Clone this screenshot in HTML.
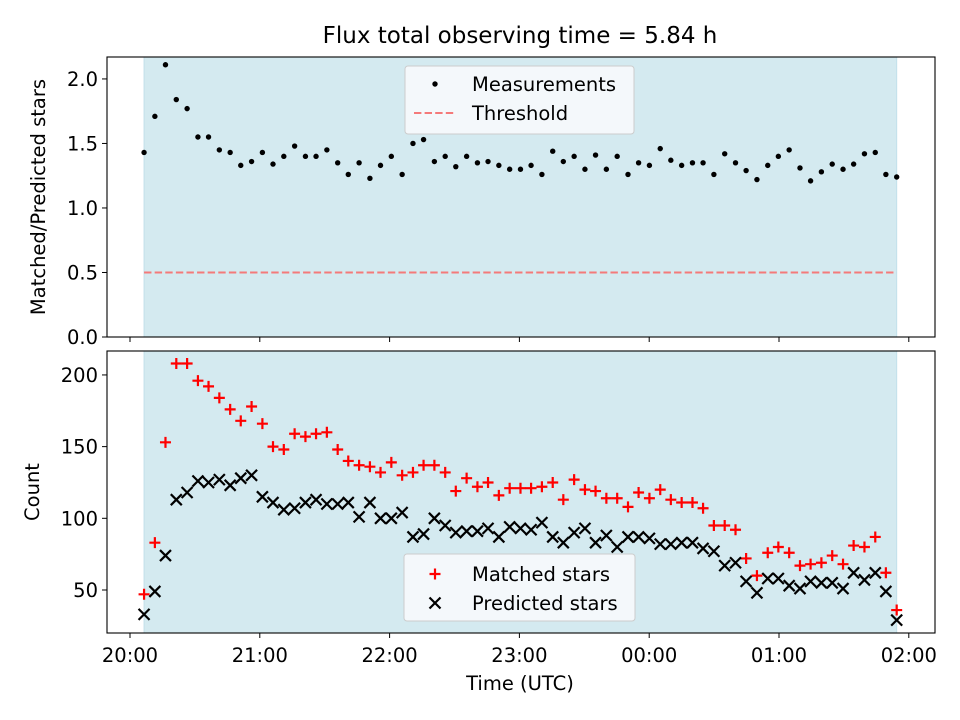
<!DOCTYPE html>
<html><head><meta charset="utf-8"><style>
html,body{margin:0;padding:0;background:#fff;}
svg{display:block;font-family:"DejaVu Sans","Liberation Sans",sans-serif;}
</style></head><body>
<svg id="chart" width="960" height="720" viewBox="0 0 960 720"></svg>
<script>
const minutes=[6.5,11.5,16.4,21.4,26.4,31.4,36.3,41.3,46.3,51.2,56.2,61.2,66.1,71.1,76.1,81.1,86.0,91.0,96.0,100.9,105.9,110.9,115.8,120.8,125.8,130.8,135.7,140.7,145.7,150.6,155.6,160.6,165.5,170.5,175.5,180.5,185.4,190.4,195.4,200.3,205.3,210.3,215.2,220.2,225.2,230.2,235.1,240.1,245.1,250.0,255.0,260.0,264.9,269.9,274.9,279.9,284.8,289.8,294.8,299.7,304.7,309.7,314.6,319.6,324.6,329.6,334.5,339.5,344.5,349.4,354.4];
const ratio=[1.43,1.71,2.11,1.84,1.77,1.55,1.55,1.45,1.43,1.33,1.36,1.43,1.34,1.40,1.48,1.40,1.40,1.45,1.35,1.26,1.35,1.23,1.33,1.40,1.26,1.50,1.53,1.36,1.40,1.32,1.40,1.35,1.36,1.33,1.30,1.30,1.33,1.26,1.44,1.36,1.40,1.30,1.41,1.30,1.40,1.26,1.35,1.33,1.46,1.37,1.33,1.35,1.35,1.26,1.42,1.35,1.29,1.22,1.33,1.40,1.45,1.31,1.21,1.28,1.34,1.30,1.34,1.42,1.43,1.26,1.24];
const matched=[47,83,153,208,208,196,192,184,176,168,178,166,150,148,159,157,159,160,148,140,137,136,132,139,130,132,137,137,132,119,128,122,125,116,121,121,121,122,125,113,127,120,119,114,114,108,118,114,120,113,111,111,107,95,95,92,72,60,76,80,76,67,68,69,74,68,81,80,87,62,36];
const predicted=[33,49,74,113,118,126,125,127,123,128,130,115,111,106,107,111,113,110,110,111,101,111,100,100,104,87,89,100,95,90,91,91,93,87,94,93,92,97,87,83,90,93,83,88,80,87,87,86,82,82,83,83,79,77,67,69,56,48,58,58,53,51,56,55,55,51,62,57,62,49,29];
const threshold=0.5;
const xTickLabels=["20:00","21:00","22:00","23:00","00:00","01:00","02:00"];
const topTicks=[0.0,0.5,1.0,1.5,2.0];
const botTicks=[50,100,150,200];

const NS="http://www.w3.org/2000/svg";
const svg=document.getElementById('chart');
function mk(tag,attrs,parent){const e=document.createElementNS(NS,tag);for(const k in attrs)e.setAttribute(k,attrs[k]);(parent||svg).appendChild(e);return e;}
const L=107,R=935,T1=57,B1=337,T2=351,B2=633;
const FS=19.5;
const xS=m=>130+m/60*129.8;
const y1=v=>B1-(v-0)/(2.17)*(B1-T1);
const y2=v=>B2-(v-20)/(216.7-20)*(B2-T2);
const shadeX0=xS(minutes[0]),shadeX1=xS(minutes[minutes.length-1]);

let s=mk('rect',{x:shadeX0,y:T1,width:shadeX1-shadeX0,height:B1-T1,fill:'#d4eaf0',stroke:'#c2e0ea'});


s=mk('rect',{x:shadeX0,y:T2,width:shadeX1-shadeX0,height:B2-T2,fill:'#d4eaf0',stroke:'#c2e0ea'});



let th=mk('line',{x1:shadeX0,x2:shadeX1,y1:y1(threshold),y2:y1(threshold),stroke:'#f47a7a','stroke-width':2,'stroke-dasharray':'7.4,3.2'});



ratio.forEach((v,i)=>{const c=mk('circle',{cx:xS(minutes[i]),cy:y1(v),r:2.7,fill:'#000'});

});

matched.forEach((v,i)=>{const x=xS(minutes[i]),y=y2(v);const p=mk('path',{d:`M${x-5.5},${y}H${x+5.5}M${x},${y-5.5}V${y+5.5}`,stroke:'#ff0000','stroke-width':2.2,fill:'none'});

});
predicted.forEach((v,i)=>{const x=xS(minutes[i]),y=y2(v);const p=mk('path',{d:`M${x-5.5},${y-5.5}L${x+5.5},${y+5.5}M${x-5.5},${y+5.5}L${x+5.5},${y-5.5}`,stroke:'#000','stroke-width':2.2,fill:'none'});

});

let f=mk('rect',{x:L,y:T1,width:R-L,height:B1-T1,fill:'none',stroke:'#000','stroke-width':1.1});


f=mk('rect',{x:L,y:T2,width:R-L,height:B2-T2,fill:'none',stroke:'#000','stroke-width':1.1});



xTickLabels.forEach((lab,i)=>{const x=xS(i*60);
let t=mk('line',{x1:x,x2:x,y1:B1,y2:B1+5,stroke:'#000'});


t=mk('line',{x1:x,x2:x,y1:B2,y2:B2+5,stroke:'#000'});


const tx=mk('text',{x:x,y:B2+29,'text-anchor':'middle','font-size':FS});tx.textContent=lab;

});
topTicks.forEach(v=>{const y=y1(v);
const t=mk('line',{x1:L-5,x2:L,y1:y,y2:y,stroke:'#000'});


const tx=mk('text',{x:L-9,y:y+7,'text-anchor':'end','font-size':FS});tx.textContent=v.toFixed(1);

});
botTicks.forEach(v=>{const y=y2(v);
const t=mk('line',{x1:L-5,x2:L,y1:y,y2:y,stroke:'#000'});


const tx=mk('text',{x:L-9,y:y+7,'text-anchor':'end','font-size':FS});tx.textContent=v;

});

svg.insertAdjacentHTML('beforeend',`
<text x="520" y="43" text-anchor="middle" font-size="23">Flux total observing time = 5.84 h</text>
<text x="520" y="690" text-anchor="middle" font-size="19.5">Time (UTC)</text>
<text transform="translate(45,197) rotate(-90)" text-anchor="middle" font-size="19.5">Matched/Predicted stars</text>
<text transform="translate(39,492) rotate(-90)" text-anchor="middle" font-size="19.5">Count</text>
<g>
<rect x="405" y="66" width="229" height="68" rx="3" fill="#f6f9fb" fill-opacity="0.95" stroke="#cccccc"/>
<circle cx="435" cy="84" r="2.7" fill="#000"/>
<text x="472" y="91" font-size="19.5">Measurements</text>
<line x1="414" x2="456" y1="113" y2="113" stroke="#f47a7a" stroke-width="2" stroke-dasharray="7.4,3.2"/>
<text x="472" y="120" font-size="19.5">Threshold</text>
</g>
<g>
<rect x="404" y="554" width="231" height="67" rx="3" fill="#f6f9fb" fill-opacity="0.95" stroke="#cccccc"/>
<path d="M429.5,574H440.5M435,568.5V579.5" stroke="#ff0000" stroke-width="2.2"/>
<text x="472" y="581" font-size="19.5">Matched stars</text>
<path d="M429.5,597.5L440.5,608.5M429.5,608.5L440.5,597.5" stroke="#000" stroke-width="2.2"/>
<text x="472" y="610" font-size="19.5">Predicted stars</text>
</g>`);
</script>
</body></html>
